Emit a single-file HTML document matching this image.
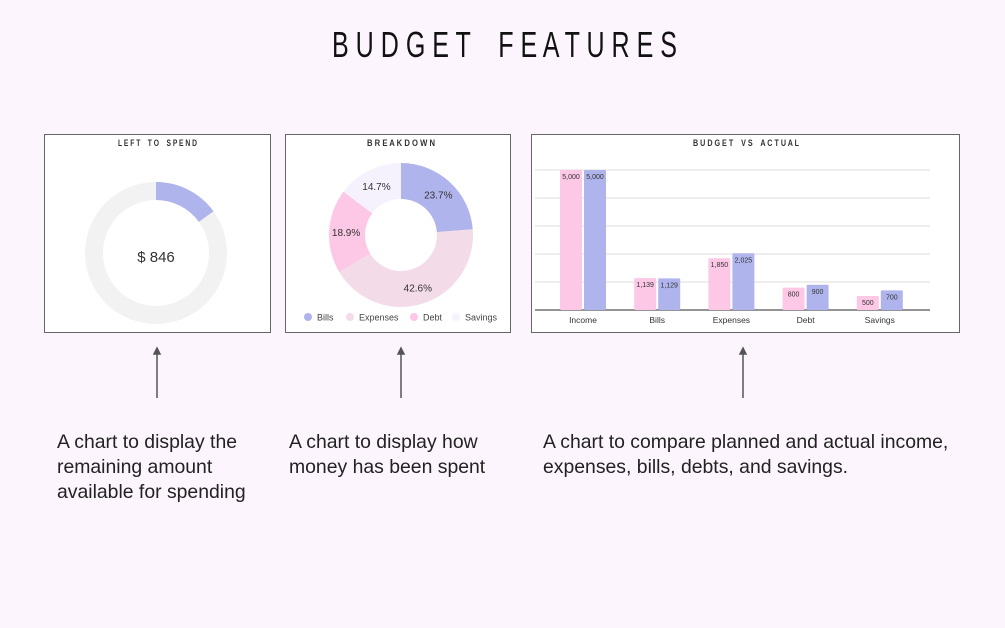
<!DOCTYPE html>
<html><head><meta charset="utf-8"><style>
body{margin:0;width:1005px;height:628px;background:#fcf5fd;font-family:"Liberation Sans",sans-serif;overflow:hidden;position:relative}
.t{position:absolute;font-size:19.4px;line-height:25px;color:#222}
svg text{white-space:pre}
</style></head><body>
<svg width="1005" height="628" style="position:absolute;left:0;top:0">
<text x="332" y="57" textLength="345" lengthAdjust="spacingAndGlyphs" font-size="36" font-family="Liberation Sans, sans-serif" fill="#111">B U D G E T    F E A T U R E S</text>
<g id="p1">
<rect x="44.5" y="134.5" width="226" height="198" fill="#fff" stroke="#666"/>
<text x="118" y="146" textLength="79" lengthAdjust="spacingAndGlyphs" font-size="9" font-weight="bold" fill="#333">L E F T    T O    S P E N D</text>
</g>
<g id="p2">
<rect x="285.5" y="134.5" width="225" height="198" fill="#fff" stroke="#666"/>
<text x="367" y="146" textLength="68" lengthAdjust="spacingAndGlyphs" font-size="9" font-weight="bold" fill="#333">B R E A K D O W N</text>
</g>
<g id="p3">
<rect x="531.5" y="134.5" width="428" height="198" fill="#fff" stroke="#666"/>
<text x="693" y="146" textLength="106" lengthAdjust="spacingAndGlyphs" font-size="9" font-weight="bold" fill="#333">B U D G E T    V S    A C T U A L</text>
</g>
<g stroke="#555" stroke-width="1.5" fill="#555">
<line x1="157" y1="352" x2="157" y2="398"/><path d="M154 354 L157 348 L160 354Z"/>
<line x1="401" y1="352" x2="401" y2="398"/><path d="M398 354 L401 348 L404 354Z"/>
<line x1="743" y1="352" x2="743" y2="398"/><path d="M740 354 L743 348 L746 354Z"/>
</g>
</svg>
<div class="t" style="left:57px;top:430px">A chart to display the<br>remaining amount<br>available for spending</div>
<div class="t" style="left:289px;top:430px">A chart to display how<br>money has been spent</div>
<div class="t" style="left:543px;top:430px">A chart to compare planned and actual income,<br>expenses, bills, debts, and savings.</div>
<script>
const NS="http://www.w3.org/2000/svg";
const leftSpent=846, leftTotal=5640;
const pieLabels=["Bills","Expenses","Debt","Savings"];
const pieValues=[23.7,42.6,18.9,14.7];
const pieColors=["#b0b4ec","#f3dbe8","#fdc7e6","#f6f2fd"];
const barCats=["Income","Bills","Expenses","Debt","Savings"];
const budgetVals=[5000,1139,1850,800,500];
const actualVals=[5000,1129,2025,900,700];
const gridTicks=[0,1000,2000,3000,4000,5000];
function mk(t,a,p){const e=document.createElementNS(NS,t);for(const k in a)e.setAttribute(k,a[k]);p.appendChild(e);return e;}
function arc(cx,cy,r0,r1,a0,a1){const p=(r,a)=>[cx+r*Math.sin(a),cy-r*Math.cos(a)];const l=(a1-a0)>Math.PI?1:0;
const [x0,y0]=p(r1,a0),[x1,y1]=p(r1,a1),[x2,y2]=p(r0,a1),[x3,y3]=p(r0,a0);
return `M${x0} ${y0}A${r1} ${r1} 0 ${l} 1 ${x1} ${y1}L${x2} ${y2}A${r0} ${r0} 0 ${l} 0 ${x3} ${y3}Z`;}
const g1=document.getElementById('p1');
const c1=mk('circle',{cx:156,cy:253,r:62,fill:'none',stroke:'#f2f2f2','stroke-width':18},g1);


const a1=mk('path',{d:arc(156,253,53,71,0,2*Math.PI*leftSpent/leftTotal),fill:'#b0b4ec'},g1);


const tv=mk('text',{x:156,y:262,'text-anchor':'middle','font-size':15,fill:'#333'},g1);tv.textContent="$ "+leftSpent;


const g2=document.getElementById('p2');
const tot=pieValues.reduce((a,b)=>a+b,0);let acc=0;
pieValues.forEach((v,i)=>{const a0=acc/tot*2*Math.PI;acc+=v;const a1=acc/tot*2*Math.PI;
const s=mk('path',{d:arc(401,235,36,72,a0,a1),fill:pieColors[i]},g2);


const m=(a0+a1)/2;const t=mk('text',{x:401+55*Math.sin(m),y:235-55*Math.cos(m)+4,'text-anchor':'middle','font-size':10,fill:'#333'},g2);t.textContent=v.toFixed(1)+"%";

});
const lx=[308,350,414,456];
pieLabels.forEach((l,i)=>{const c=mk('circle',{cx:lx[i],cy:317,r:4,fill:pieColors[i]},g2);


const t=mk('text',{x:lx[i]+9,y:320.5,'font-size':9,fill:'#444'},g2);t.textContent=l;

});
const g3=document.getElementById('p3');
const y=v=>310-v*140/5000, x=i=>583+i*74.2;
gridTicks.forEach(t=>{const l=mk('line',{x1:535,x2:930,y1:y(t),y2:y(t),stroke:t?'#ddd':'#555','stroke-width':t?1:1.2},g3);

});
barCats.forEach((c,i)=>{[[budgetVals,'#fdc7e6',-23,'budget'],[actualVals,'#b0b4ec',1,'actual']].forEach(([arr,col,off,nm])=>{
const r=mk('rect',{x:x(i)+off,y:y(arr[i]),width:22,height:310-y(arr[i]),fill:col,rx:1},g3);


const t=mk('text',{x:x(i)+off+11,y:y(arr[i])+9,'text-anchor':'middle','font-size':7,fill:'#333'},g3);t.textContent=arr[i].toLocaleString('en-US');

});
const t=mk('text',{x:x(i),y:323,'text-anchor':'middle','font-size':8.5,fill:'#333'},g3);t.textContent=c;

});
</script>
</body></html>
